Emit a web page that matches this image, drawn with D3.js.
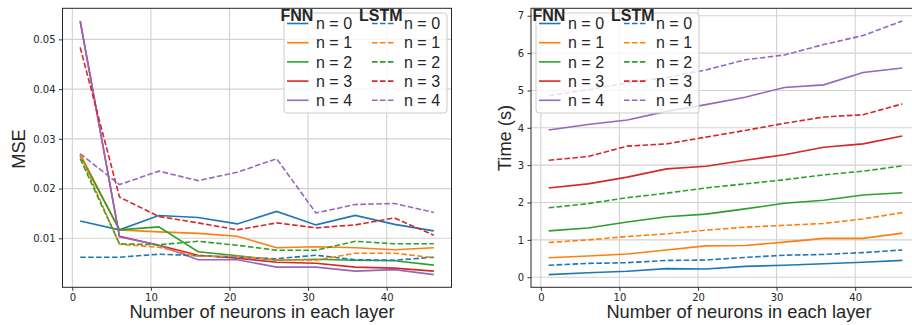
<!DOCTYPE html>
<html>
<head>
<script src="https://d3js.org/d3.v7.min.js"></script>
<style>
  body { margin: 0; background: #fff; }
  .tick text { font-family: "DejaVu Sans", sans-serif; font-size: 10px; fill: #262626; }
  .tick line { stroke: #333; }
  .lbl { font-family: "Liberation Sans", Arial, sans-serif; fill: #262626; }
</style>
</head>
<body>
<svg id="chart" width="912" height="325"></svg>
<script>
neurons = [1, 6, 11, 16, 21, 26, 31, 36, 41, 46];
xTicks = [0, 10, 20, 30, 40];
mseTicks = [0.01, 0.02, 0.03, 0.04, 0.05];
timeTicks = [0, 1, 2, 3, 4, 5, 6, 7];
nLabels = ["n = 0", "n = 1", "n = 2", "n = 3", "n = 4"];
colors = ["#1f77b4", "#ff7f0e", "#2ca02c", "#d62728", "#9467bd"];

// MSE, one row per n
mseFNN = [
  [0.0135, 0.0117, 0.0146, 0.0142, 0.0129, 0.0154, 0.0127, 0.0146, 0.0128, 0.0115],
  [0.0270, 0.0117, 0.0113, 0.0110, 0.0104, 0.0081, 0.0083, 0.0081, 0.0077, 0.0081],
  [0.0266, 0.0117, 0.0123, 0.0073, 0.0065, 0.0056, 0.0058, 0.0056, 0.0055, 0.0046],
  [0.0537, 0.0104, 0.0086, 0.0066, 0.0060, 0.0052, 0.0050, 0.0042, 0.0040, 0.0034],
  [0.0537, 0.0103, 0.0086, 0.0057, 0.0057, 0.0042, 0.0042, 0.0034, 0.0037, 0.0027]
];
mseLSTM = [
  [0.0062, 0.0062, 0.0068, 0.0065, 0.0062, 0.0059, 0.0066, 0.0057, 0.0056, 0.0062],
  [0.0268, 0.0088, 0.0082, 0.0064, 0.0064, 0.0057, 0.0056, 0.0070, 0.0070, 0.0061],
  [0.0260, 0.0089, 0.0087, 0.0094, 0.0086, 0.0076, 0.0076, 0.0094, 0.0089, 0.0089],
  [0.0484, 0.0183, 0.0144, 0.0131, 0.0117, 0.0131, 0.0121, 0.0127, 0.0141, 0.0106],
  [0.0270, 0.0208, 0.0235, 0.0216, 0.0233, 0.0260, 0.0151, 0.0168, 0.0170, 0.0152]
];

// time in seconds, one row per n
timeFNN = [
  [0.07, 0.12, 0.16, 0.23, 0.22, 0.29, 0.32, 0.36, 0.40, 0.45],
  [0.52, 0.57, 0.62, 0.73, 0.84, 0.85, 0.94, 1.04, 1.04, 1.18],
  [1.24, 1.32, 1.48, 1.62, 1.69, 1.83, 1.98, 2.06, 2.20, 2.26],
  [2.39, 2.50, 2.68, 2.90, 2.97, 3.13, 3.28, 3.48, 3.57, 3.78],
  [3.94, 4.09, 4.21, 4.44, 4.62, 4.82, 5.08, 5.15, 5.48, 5.60]
];
timeLSTM = [
  [0.32, 0.37, 0.39, 0.45, 0.46, 0.53, 0.59, 0.61, 0.66, 0.73],
  [0.93, 1.00, 1.09, 1.16, 1.26, 1.34, 1.39, 1.44, 1.56, 1.73],
  [1.86, 1.97, 2.13, 2.25, 2.39, 2.50, 2.61, 2.74, 2.84, 2.98],
  [3.13, 3.23, 3.51, 3.57, 3.75, 3.93, 4.12, 4.29, 4.35, 4.64],
  [4.86, 5.02, 5.20, 5.35, 5.55, 5.82, 5.95, 6.23, 6.47, 6.86]
];

svg = d3.select("#chart");
top_ = 8.3; bottom = 287.3;
dash = "5.55,2.4";

function panel(o) {
  g = svg.append("g");

  // matplotlib style 5% margins
  xe = d3.extent(neurons); xp = (xe[1] - xe[0]) * 0.05;
  x = d3.scaleLinear([xe[0] - xp, xe[1] + xp], [o.left, o.right]);
  all = o.fnn.flat().concat(o.lstm.flat());
  ye = d3.extent(all); yp = (ye[1] - ye[0]) * 0.05;
  y = d3.scaleLinear([ye[0] - yp, ye[1] + yp], [bottom, top_]);

  // grid
  g.selectAll(".vg").data(xTicks).join("line")
    .attr("x1", d => x(d)).attr("x2", d => x(d))
    .attr("y1", top_).attr("y2", bottom)
    .attr("stroke", "#d2d2d2").attr("stroke-width", 1.1);
  g.selectAll(".hg").data(o.yTicks).join("line")
    .attr("x1", o.left).attr("x2", o.right)
    .attr("y1", d => y(d)).attr("y2", d => y(d))
    .attr("stroke", "#d2d2d2").attr("stroke-width", 1.1);

  line = d3.line().x((d, i) => x(neurons[i])).y(d => y(d));

  g.selectAll(".fnn").data(o.fnn).join("path")
    .attr("d", line).attr("fill", "none")
    .attr("stroke", (d, i) => colors[i]).attr("stroke-width", 1.6);
  g.selectAll(".lstm").data(o.lstm).join("path")
    .attr("d", line).attr("fill", "none")
    .attr("stroke", (d, i) => colors[i]).attr("stroke-width", 1.6)
    .attr("stroke-dasharray", dash);

  // spines
  g.append("rect")
    .attr("x", o.left).attr("y", top_)
    .attr("width", o.right - o.left).attr("height", bottom - top_)
    .attr("fill", "none").attr("stroke", "#262626").attr("stroke-width", 1);

  xa = g.append("g").attr("transform", "translate(0," + bottom + ")")
    .call(d3.axisBottom(x).tickValues(xTicks).tickSize(3.5).tickPadding(3.5));
  xa.select(".domain").remove();
  ya = g.append("g").attr("transform", "translate(" + o.left + ",0)")
    .call(d3.axisLeft(y).tickValues(o.yTicks).tickFormat(o.fmt).tickSize(3.5).tickPadding(3.5));
  ya.select(".domain").remove();

  // axis labels
  g.append("text").attr("class", "lbl")
    .attr("x", o.xLabelX).attr("y", 318.3)
    .attr("text-anchor", "middle").attr("font-size", "18.3px")
    .text("Number of neurons in each layer");
  g.append("text").attr("class", "lbl")
    .attr("transform", "translate(" + o.yLabelX + "," + o.yLabelY + ") rotate(-90)")
    .attr("text-anchor", "middle").attr("font-size", "18.3px")
    .text(o.yLabel);

  // legend
  L = o.legX;
  g.append("rect")
    .attr("x", L).attr("y", 13).attr("width", 163).attr("height", 100).attr("rx", 3)
    .attr("fill", "#fff").attr("fill-opacity", 0.8)
    .attr("stroke", "#cccccc").attr("stroke-width", 1);
  rowY = i => 23.5 + i * 19.2;
  [0, 1].forEach(c => {
    hx = L + (c == 0 ? 3 : 88);
    tx = L + (c == 0 ? 32 : 120);
    g.selectAll(".lh" + c).data(nLabels).join("line")
      .attr("x1", hx).attr("x2", hx + 21.5)
      .attr("y1", (d, i) => rowY(i)).attr("y2", (d, i) => rowY(i))
      .attr("stroke", (d, i) => colors[i]).attr("stroke-width", 1.6)
      .attr("stroke-dasharray", c == 0 ? null : dash);
    g.selectAll(".lt" + c).data(nLabels).join("text")
      .attr("class", "lbl")
      .attr("x", tx).attr("y", (d, i) => rowY(i) + 5.7)
      .attr("font-size", "16px").attr("fill", "#333")
      .text(d => d);
  });
  g.append("text").attr("class", "lbl")
    .attr("x", L - 3.5).attr("y", 20.7)
    .attr("font-size", "16px").attr("font-weight", "bold").attr("fill", "#111")
    .text("FNN");
  g.append("text").attr("class", "lbl")
    .attr("x", L + 75).attr("y", 20.7)
    .attr("font-size", "16px").attr("font-weight", "bold").attr("fill", "#111")
    .text("LSTM");
}

panel({
  left: 62.5, right: 451.5, fnn: mseFNN, lstm: mseLSTM,
  yTicks: mseTicks, fmt: d3.format(".2f"),
  xLabelX: 262, yLabel: "MSE", yLabelX: 25, yLabelY: 149, legX: 284
});
panel({
  left: 531, right: 920, fnn: timeFNN, lstm: timeLSTM,
  yTicks: timeTicks, fmt: d3.format("d"),
  xLabelX: 739, yLabel: "Time (s)", yLabelX: 510.7, yLabelY: 138, legX: 536
});
</script>
</body>
</html>
